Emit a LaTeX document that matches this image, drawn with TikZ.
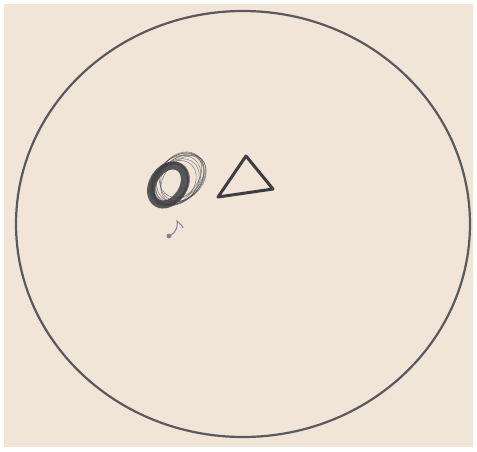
\documentclass[tikz,border=0pt]{standalone}
\definecolor{paper}{RGB}{241,229,216}
\definecolor{pencil}{RGB}{90,90,94}
\definecolor{darkpencil}{RGB}{62,62,66}
\definecolor{violetmark}{RGB}{140,125,150}
\tikzset{
  outline/.style={draw=pencil, line width=2.2pt},
  scribble/.style={draw=darkpencil, line width=0.6pt, opacity=0.55},
  tri/.style={draw=darkpencil, line width=3pt, line join=round},
}
\begin{document}
\begin{tikzpicture}[x=1pt,y=-1pt]
\useasboundingbox (0,0) rectangle (477,451);
\fill[white] (0,0) rectangle (477,451);
\fill[paper] (4,4) rectangle (473,447);
% big circle
\draw[outline] (243,224) ellipse [x radius=227, y radius=213];
% scribbled oval: light strokes
\begin{scope}[shift={(177,180)}, rotate=48]
  \foreach \dx/\dy/\a/\b in {-4/0/25/19, -2/1/26/20, 0/0/27/21, 2/2/28/20, 4/1/27/21, 6/3/26/20, 3/-1/28/19, 7/0/25/20, 5/4/27/18}
    \draw[scribble] (\dx,\dy) ellipse [x radius=\a, y radius=\b];
\end{scope}
% scribbled oval: dark ring
\begin{scope}[shift={(168,185)}, rotate=58]
  \draw[draw=darkpencil, line width=8pt, opacity=0.85] (0,0) ellipse [x radius=21, y radius=15];
  \draw[draw=darkpencil, line width=3pt, opacity=0.6] (2,1) ellipse [x radius=22, y radius=17];
\end{scope}
% triangle
\coordinate (tl) at (218,197);
\coordinate (tt) at (246,156);
\coordinate (tr) at (273,189);
\draw[tri] (tl) -- (tt) -- (tr) -- cycle;
% small mark
\fill[violetmark] (169,236) circle (2.4);
\draw[violetmark, line width=1pt] (171,235) .. controls (176,232) and (178,227) .. (177,221) .. controls (180,224) and (183,226) .. (183,228);
\end{tikzpicture}
\end{document}
